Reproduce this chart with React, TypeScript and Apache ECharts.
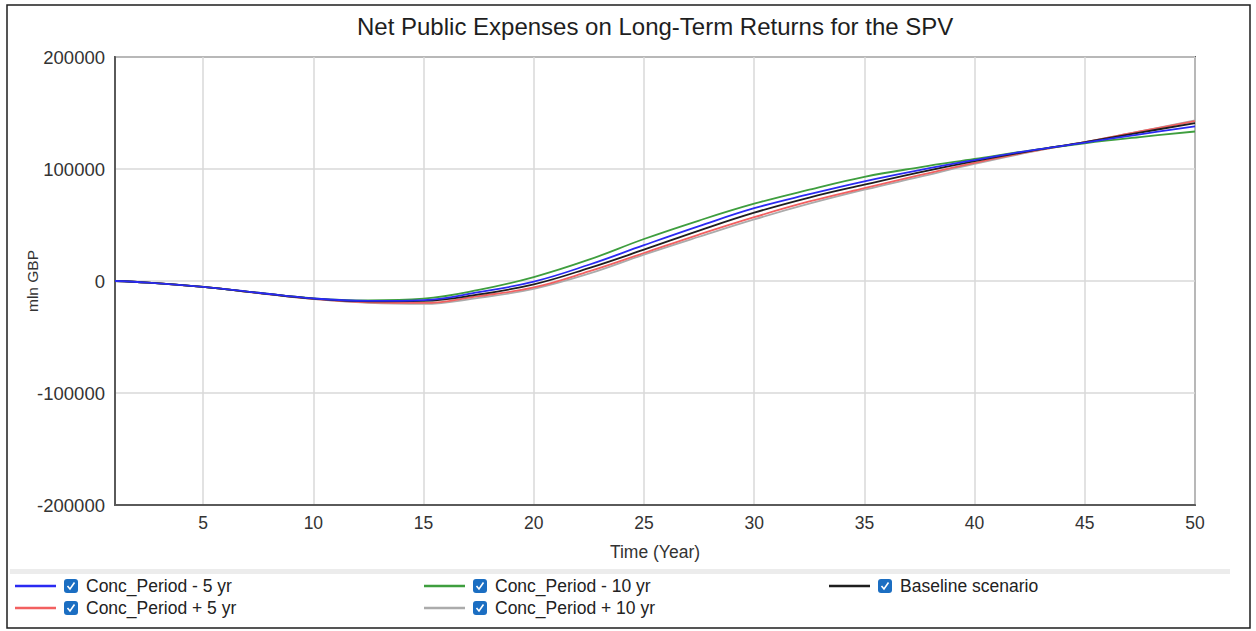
import React, { useEffect, useRef } from "react";
import * as echarts from "echarts";

const titleText = "Net Public Expenses on Long-Term Returns for the SPV";
const xName = "Time (Year)";
const yName = "mln GBP";

const years = [1, 2.5, 5, 7.5, 10, 12.5, 15, 17.5, 20, 22.5, 25, 27.5, 30, 32.5, 35, 37.5, 40, 42.5, 45, 47.5, 50];
const xTicks = [5, 10, 15, 20, 25, 30, 35, 40, 45, 50];

const minus5 = [0, -1400, -5300, -10500, -15600, -17800, -17000, -10000, -600, 14500, 32000, 49000, 65000, 77500, 89000, 99000, 108000, 116500, 123500, 131000, 138000];
const minus10 = [0, -1400, -5300, -10500, -15500, -17300, -15800, -8000, 3500, 19000, 37500, 54000, 69000, 81500, 93000, 101500, 109000, 116500, 123000, 128500, 133500];
const baseline = [0, -1400, -5300, -10600, -15700, -18200, -17800, -12000, -3000, 11500, 28000, 45000, 61000, 74500, 86000, 97000, 107000, 116000, 124000, 132500, 141000];
const plus5 = [0, -1400, -5300, -10700, -16000, -19000, -19600, -13500, -5800, 8500, 25000, 41500, 57000, 71000, 83000, 94500, 105500, 115500, 124000, 133500, 142800];
const plus10 = [0, -1400, -5300, -10800, -16200, -19500, -20500, -15000, -7000, 6500, 23500, 39500, 55000, 69000, 81500, 93000, 104500, 115000, 124000, 133500, 143500];

const seriesNames = ["Conc_Period - 5 yr", "Conc_Period - 10 yr", "Baseline scenario", "Conc_Period + 5 yr", "Conc_Period + 10 yr"];
const seriesValues = [minus5, minus10, baseline, plus5, plus10];
const seriesColors = ["#2a2af2", "#3e9e3e", "#1e1e1e", "#f26060", "#ababab"];
// draw order (last on top)
const drawOrder = [4, 3, 1, 2, 0];
// legend grid: [column x, row y]
const legendPos = [[15, 586], [424, 586], [829, 586], [15, 608], [424, 608]];

export default function App() {
  const ref = useRef<HTMLDivElement>(null);
  useEffect(() => {
    if (!ref.current) return;
    const chart = echarts.init(ref.current, undefined, { renderer: "svg" });
    const font = "Liberation Sans, Arial, sans-serif";

    const legendGraphics: any[] = [];
    seriesNames.forEach((name, i) => {
      const [lx, ly] = legendPos[i];
      legendGraphics.push({
        type: "line",
        shape: { x1: lx, y1: ly, x2: lx + 41, y2: ly },
        style: { stroke: seriesColors[i], lineWidth: 2.5 },
      });
      legendGraphics.push({
        type: "rect",
        shape: { x: lx + 49, y: ly - 7, width: 14, height: 14, r: 3 },
        style: { fill: "#1b6ec2" },
      });
      legendGraphics.push({
        type: "polyline",
        shape: { points: [[lx + 52.5, ly], [lx + 55, ly + 3], [lx + 59.5, ly - 3.5]] },
        style: { stroke: "#ffffff", lineWidth: 1.6, fill: null },
      });
      legendGraphics.push({
        type: "text",
        x: lx + 71,
        y: ly,
        style: {
          text: name,
          fill: "#222",
          font: `17.5px ${font}`,
          textAlign: "left",
          textVerticalAlign: "middle",
        },
      });
    });

    chart.setOption({
      animation: false,
      backgroundColor: "#ffffff",
      title: {
        text: titleText,
        left: 357,
        top: 14,
        padding: 0,
        textStyle: { fontFamily: font, fontSize: 24, fontWeight: "normal", color: "#1e1e1e" },
      },
      grid: {
        left: 115,
        right: 61,
        top: 57,
        bottom: 126,
        show: true,
        borderColor: "#5a5a5a",
        borderWidth: 2,
        backgroundColor: "transparent",
      },
      xAxis: {
        type: "value",
        min: 1,
        max: 50,
        name: xName,
        nameLocation: "middle",
        nameGap: 38,
        nameMoveOverlap: false,
        nameTextStyle: { fontFamily: font, fontSize: 17.5, color: "#333" },
        axisLine: { show: true, onZero: false, lineStyle: { color: "#5a5a5a", width: 2 } },
        axisTick: { show: false, customValues: xTicks },
        axisLabel: { customValues: xTicks, fontFamily: font, fontSize: 17.5, color: "#333", margin: 9 },
        splitLine: { show: true, lineStyle: { color: "#d8d8d8", width: 1.5 } },
      },
      yAxis: {
        type: "value",
        min: -200000,
        max: 200000,
        interval: 100000,
        name: yName,
        nameLocation: "middle",
        nameRotate: 90,
        nameGap: 75,
        nameMoveOverlap: false,
        nameTextStyle: { fontFamily: font, fontSize: 15.5, color: "#333" },
        axisLine: { show: true, onZero: false, lineStyle: { color: "#5a5a5a", width: 2 } },
        axisTick: { show: false },
        axisLabel: {
          fontFamily: font,
          fontSize: 18.5,
          color: "#333",
          margin: 10,
          formatter: (v: number) => String(v),
        },
        splitLine: { show: true, lineStyle: { color: "#d8d8d8", width: 1.5 } },
      },
      series: drawOrder.map((i) => ({
        name: seriesNames[i],
        type: "line",
        smooth: 0.4,
        showSymbol: false,
        symbol: "none",
        lineStyle: { color: seriesColors[i], width: 1.8 },
        itemStyle: { color: seriesColors[i] },
        data: years.map((t, k) => [t, seriesValues[i][k]]),
      })),
      graphic: [
        {
          type: "rect",
          shape: { x: 7, y: 5, width: 1243, height: 623 },
          style: { fill: null, stroke: "#1e1e1e", lineWidth: 1.5 },
          silent: true,
        },
        {
          type: "rect",
          shape: { x: 10, y: 569, width: 1220, height: 5 },
          style: { fill: "#ececec" },
          silent: true,
        },
        ...legendGraphics,
      ],
    });
    return () => chart.dispose();
  }, []);
  return (
    <div
      ref={ref}
      style={{ position: "fixed", left: 0, top: 0, width: 1256, height: 631, background: "#fff" }}
    />
  );
}
